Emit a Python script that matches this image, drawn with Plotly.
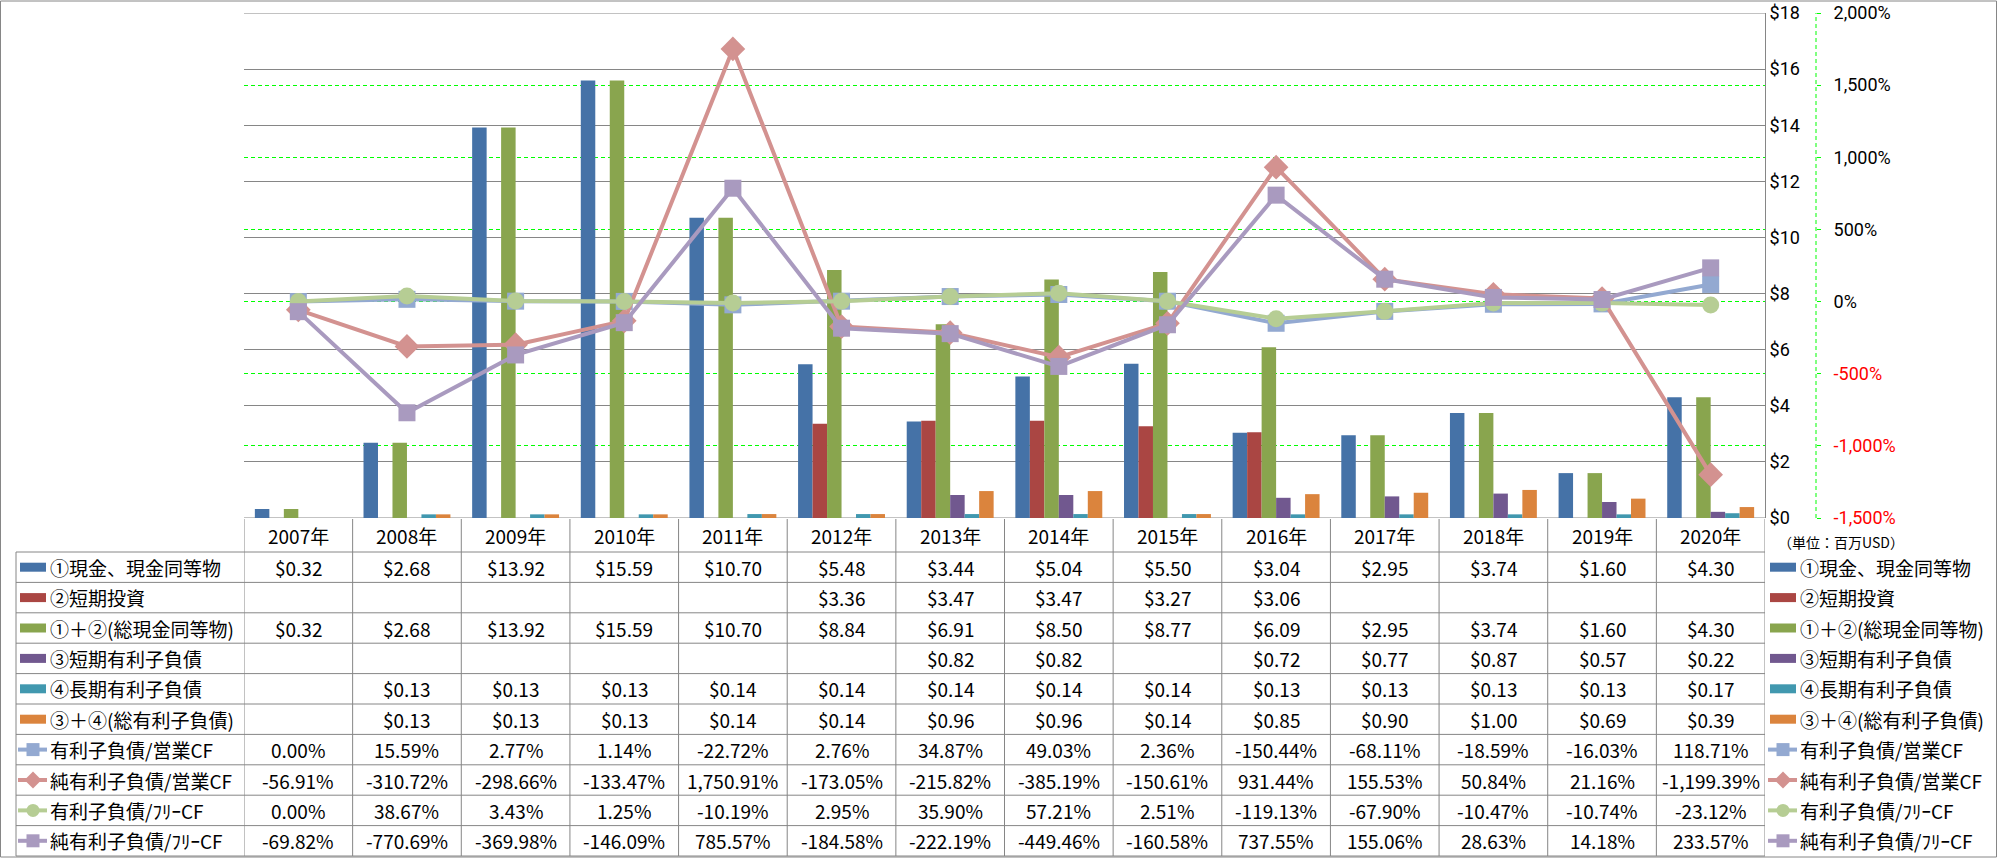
import plotly.graph_objects as go

# ---------------- data ----------------
years = ["2007年", "2008年", "2009年", "2010年", "2011年", "2012年", "2013年",
         "2014年", "2015年", "2016年", "2017年", "2018年", "2019年", "2020年"]

cash = [0.32, 2.68, 13.92, 15.59, 10.70, 5.48, 3.44, 5.04, 5.50, 3.04, 2.95, 3.74, 1.60, 4.30]
st_invest = [None, None, None, None, None, 3.36, 3.47, 3.47, 3.27, 3.06, None, None, None, None]
total_cash = [0.32, 2.68, 13.92, 15.59, 10.70, 8.84, 6.91, 8.50, 8.77, 6.09, 2.95, 3.74, 1.60, 4.30]
st_debt = [None, None, None, None, None, None, 0.82, 0.82, None, 0.72, 0.77, 0.87, 0.57, 0.22]
lt_debt = [None, 0.13, 0.13, 0.13, 0.14, 0.14, 0.14, 0.14, 0.14, 0.13, 0.13, 0.13, 0.13, 0.17]
total_debt = [None, 0.13, 0.13, 0.13, 0.14, 0.14, 0.96, 0.96, 0.14, 0.85, 0.90, 1.00, 0.69, 0.39]

debt_ocf = [0.00, 15.59, 2.77, 1.14, -22.72, 2.76, 34.87, 49.03, 2.36, -150.44, -68.11, -18.59, -16.03, 118.71]
netdebt_ocf = [-56.91, -310.72, -298.66, -133.47, 1750.91, -173.05, -215.82, -385.19, -150.61, 931.44,
               155.53, 50.84, 21.16, -1199.39]
debt_fcf = [0.00, 38.67, 3.43, 1.25, -10.19, 2.95, 35.90, 57.21, 2.51, -119.13, -67.90, -10.47, -10.74, -23.12]
netdebt_fcf = [-69.82, -770.69, -369.98, -146.09, 785.57, -184.58, -222.19, -449.46, -160.58, 737.55,
               155.06, 28.63, 14.18, 233.57]

bar_names = ["①現金、現金同等物", "②短期投資", "①＋②(総現金同等物)",
             "③短期有利子負債", "④長期有利子負債", "③＋④(総有利子負債)"]
line_names = ["有利子負債/営業CF", "純有利子負債/営業CF", "有利子負債/ﾌﾘｰCF", "純有利子負債/ﾌﾘｰCF"]

money_ticks = list(range(0, 19, 2))
pct_ticks = list(range(-1500, 2001, 500))
unit_label = "（単位：百万USD）"

# ---------------- styling ----------------
bar_colors = ["#4572A7", "#AA4643", "#89A54E", "#71588F", "#4198AF", "#DB843D"]
line_colors = ["#93A9D1", "#D39290", "#B6CD94", "#A99ABF"]
line_symbols = ["square", "diamond", "circle", "square"]
line_msizes = [17, 19, 17, 17]
GRID = "#868686"
GREEN = "#00FF00"
FONT = "Noto Sans CJK JP"
TICKFONT = dict(family="Roboto", size=18, color="#000000")
FS = 19

W, H = 1997, 858
ML, MR, MT, MB = 244, 100, 13, 340
PW, PH = W - ML - MR, H - MT - MB
PLOT_R = 1765
Y2_X = 1816


def fx(x):
    return (x - ML) / PW


def fy(y):
    return (H - MB - y) / PH


bar_data = [cash, st_invest, total_cash, st_debt, lt_debt, total_debt]
line_data = [debt_ocf, netdebt_ocf, debt_fcf, netdebt_fcf]

fig = go.Figure()
for name, vals, col in zip(bar_names, bar_data, bar_colors):
    fig.add_trace(go.Bar(x=years, y=vals, name=name, yaxis="y",
                         marker=dict(color=col, line=dict(width=0))))
for name, vals, col, sym, ms in zip(line_names, line_data, line_colors, line_symbols, line_msizes):
    fig.add_trace(go.Scatter(x=years, y=vals, name=name, yaxis="y2", mode="lines+markers",
                             line=dict(color=col, width=4),
                             marker=dict(symbol=sym, size=ms, color=col, line=dict(width=0))))

money_text = [f"${v}" for v in money_ticks]
pct_text = [f"{v:,}%" if v >= 0 else f'<span style="color:#FF0000">{v:,}%</span>' for v in pct_ticks]

shapes = []
annotations = []

# plot frame lines above gridlines
for yv in (0, 18):
    shapes.append(dict(type="line", xref="x", yref="y", x0=-0.5, x1=13.5, y0=yv, y1=yv,
                       line=dict(color=GRID, width=1), layer="between"))
# secondary axis dashed line
shapes.append(dict(type="line", xref="paper", yref="y2", x0=fx(Y2_X), x1=fx(Y2_X), y0=-1500, y1=2000,
                   line=dict(color=GREEN, width=1, dash="4px,3px")))

# outer border
shapes.append(dict(type="rect", xref="paper", yref="paper", x0=fx(0.5), x1=fx(1996.5), y0=fy(857), y1=fy(1),
                   line=dict(color=GRID, width=1), fillcolor="rgba(0,0,0,0)"))

# ---------------- data table ----------------
HEAD_T, HEAD_B = 519, 552
ROW_H = 30.4
N_ROWS = 10
TAB_B = HEAD_B + ROW_H * N_ROWS
TAB_L = 16

for k in range(N_ROWS + 1):
    yy = HEAD_B + k * ROW_H
    shapes.append(dict(type="line", xref="paper", yref="paper", x0=fx(TAB_L), x1=fx(PLOT_R), y0=fy(yy), y1=fy(yy),
                       line=dict(color=GRID, width=1)))
shapes.append(dict(type="line", xref="paper", yref="paper", x0=fx(TAB_L), x1=fx(TAB_L), y0=fy(HEAD_B), y1=fy(TAB_B),
                   line=dict(color=GRID, width=1)))
for i in range(len(years) + 1):
    shapes.append(dict(type="line", xref="x", yref="paper", x0=i - 0.5, x1=i - 0.5, y0=fy(HEAD_T), y1=fy(TAB_B),
                       line=dict(color=GRID, width=1)))

for i, yr in enumerate(years):
    annotations.append(dict(xref="x", yref="paper", x=yr, y=fy((HEAD_T + HEAD_B) / 2), text=yr,
                            showarrow=False, xanchor="center", yanchor="middle", font=dict(size=FS)))

table_rows = []
for name, vals, col in zip(bar_names, bar_data, bar_colors):
    table_rows.append((name, vals, "money", ("bar", col, None)))
for name, vals, col, sym in zip(line_names, line_data, line_colors, line_symbols):
    table_rows.append((name, vals, "pct", ("line", col, sym)))


def add_key(spec, x_left, yc):
    kind, col, sym = spec
    if kind == "bar":
        shapes.append(dict(type="rect", xref="paper", yref="paper", x0=fx(x_left + 2), x1=fx(x_left + 28),
                           y0=fy(yc + 4.5), y1=fy(yc - 4.5), line=dict(width=0), fillcolor=col))
    else:
        shapes.append(dict(type="line", xref="paper", yref="paper", x0=fx(x_left), x1=fx(x_left + 29),
                           y0=fy(yc), y1=fy(yc), line=dict(color=col, width=4)))
        cx = x_left + 15
        if sym == "square":
            shapes.append(dict(type="rect", xref="paper", yref="paper", x0=fx(cx - 6.5), x1=fx(cx + 6.5),
                               y0=fy(yc + 6.5), y1=fy(yc - 6.5), line=dict(width=0), fillcolor=col))
        elif sym == "circle":
            shapes.append(dict(type="circle", xref="paper", yref="paper", x0=fx(cx - 6.5), x1=fx(cx + 6.5),
                               y0=fy(yc + 6.5), y1=fy(yc - 6.5), line=dict(width=0), fillcolor=col))
        else:
            r = 8.5
            path = (f"M {fx(cx - r)},{fy(yc)} L {fx(cx)},{fy(yc - r)} L {fx(cx + r)},{fy(yc)} "
                    f"L {fx(cx)},{fy(yc + r)} Z")
            shapes.append(dict(type="path", xref="paper", yref="paper", path=path,
                               line=dict(width=0), fillcolor=col))


for r, (name, vals, fmt, spec) in enumerate(table_rows):
    yc = HEAD_B + ROW_H * (r + 0.5)
    for i, v in enumerate(vals):
        if v is None:
            continue
        txt = f"${v:.2f}" if fmt == "money" else f"{v:,.2f}%"
        annotations.append(dict(xref="x", yref="paper", x=years[i], y=fy(yc), text=txt, showarrow=False,
                                xanchor="center", yanchor="middle", font=dict(size=FS)))
    # left legend
    add_key(spec, 18, yc)
    annotations.append(dict(xref="paper", yref="paper", x=fx(48), y=fy(yc), text=name, showarrow=False,
                            xanchor="left", yanchor="middle", font=dict(size=FS)))
    # right legend
    add_key(spec, 1768, yc)
    annotations.append(dict(xref="paper", yref="paper", x=fx(1798), y=fy(yc), text=name, showarrow=False,
                            xanchor="left", yanchor="middle", font=dict(size=FS)))

annotations.append(dict(xref="paper", yref="paper", x=fx(1776), y=fy(542), text=unit_label, showarrow=False,
                        xanchor="left", yanchor="middle", font=dict(size=14)))

fig.update_layout(
    width=W, height=H,
    margin=dict(l=ML, r=MR, t=MT, b=MB, pad=0, autoexpand=False),
    paper_bgcolor="white", plot_bgcolor="white",
    font=dict(family=FONT, size=FS, color="#000000"),
    showlegend=False,
    barmode="group", bargap=0.2, bargroupgap=0,
    xaxis=dict(domain=[0, (PLOT_R - ML) / PW], type="category", range=[-0.5, 13.5], automargin=False,
               showticklabels=False, showgrid=False, zeroline=False, showline=False, ticks=""),
    yaxis=dict(range=[0, 18], tickmode="array", tickvals=money_ticks, ticktext=money_text, side="right",
               anchor="x", showgrid=True, gridcolor=GRID, gridwidth=1, zeroline=False, automargin=False,
               showline=True, linecolor=GRID, linewidth=1, ticks="", ticklabelstandoff=0,
               ticklabeloverflow="allow", tickfont=TICKFONT),
    yaxis2=dict(range=[-1500, 2000], overlaying="y", side="right", anchor="free", position=fx(Y2_X),
                tickmode="array", tickvals=pct_ticks, ticktext=pct_text, automargin=False,
                showgrid=True, gridcolor=GREEN, gridwidth=1, griddash="4px,3px",
                zeroline=False, showline=False, ticks="outside", ticklen=4, tickcolor=GREEN,
                tickwidth=1, ticklabelstandoff=9, ticklabeloverflow="allow", tickfont=TICKFONT),
    shapes=shapes,
    annotations=annotations,
)

fig.write_html("out.html", config={"displayModeBar": False},
               post_script="document.body.style.margin='0';document.body.style.overflow='hidden';")
